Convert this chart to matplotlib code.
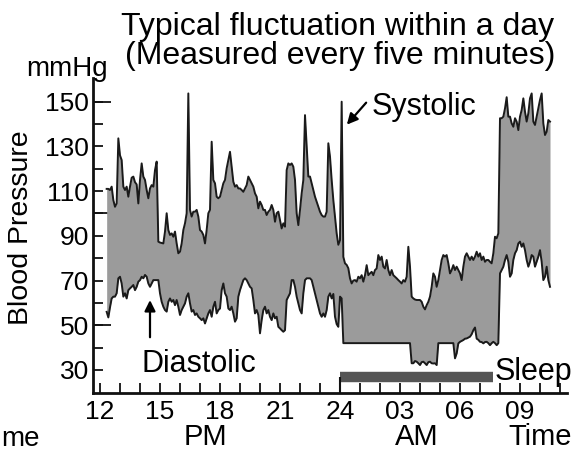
import numpy as np
import matplotlib
matplotlib.use('Agg')
import matplotlib.pyplot as plt

plt.rcParams['font.family'] = ['Liberation Sans', 'DejaVu Sans']

# ---------------- data ----------------
start_hour = 12 + 20 / 60          # first reading 12:20
interval_min = 5                   # measured every five minutes

systolic = [
    111, 111, 110.5, 112, 106, 103, 104.5, 133.6, 126, 123.9,
    112, 110.5, 112, 107.5, 112, 116, 116.5, 114, 113, 104.5,
    115, 122.4, 116.5, 115, 110.5, 106.8, 111.2, 112.7, 112, 119.4,
    123.2, 87.4, 87, 86.8, 86.6, 91.9, 100.1, 92.6, 90.4, 91.1,
    89.6, 91.9, 86.6, 82.2, 82.9, 86.6, 92.6, 95.6, 100.1, 153.7,
    101.6, 98.6, 100.8, 100.8, 101.6, 98.6, 92.6, 91.9, 90.4, 86.6,
    92.6, 100.1, 101.6, 132.1, 115, 113.5, 107.5, 106.8, 107.5, 110.5,
    113.5, 115, 120.2, 123.9, 127.6, 120.9, 114.2, 112, 112.7, 111.2,
    111.2, 110.5, 109.7, 111.2, 112.7, 116.5, 115, 113.5, 112, 109,
    107.5, 102.3, 105.3, 103.8, 101.6, 101.6, 99.3, 100.8, 101.6, 103.8,
    101.6, 96.3, 100.1, 100.8, 97.1, 93.3, 95.6, 94.1, 119.4, 122.4,
    121.7, 122.4, 120.9, 115, 100.1, 94.8, 101.6, 109, 115, 144,
    129.9, 116.5, 116.5, 113.5, 110.5, 107.5, 105.3, 103, 100.8, 99.3,
    98.6, 98.6, 100.8, 131.4, 125.4, 115, 106, 98.6, 91.1, 86,
    # from midnight
    88, 150, 80.6, 77.7, 77, 75.5, 71, 68.7, 70, 70.2,
    69.5, 71.7, 71, 72.4, 69.5, 72.4, 76.9, 72.4, 73.2, 73.9,
    72.4, 74.7, 75.4, 81.4, 79.2, 80.7, 76.2, 75.4, 79.2, 74.7,
    72.4, 74.7, 72.4, 71.7, 71, 70.2, 69.5, 68.7, 70.2, 69.5,
    71.7, 85.1, 76.2, 62.8, 62, 61.5, 61.3, 61.3, 61.3, 60.5,
    58.3, 57.1, 59, 60.5, 62.8, 67.2, 73.2, 71.7, 67.2, 70.2,
    74.7, 79.2, 81.4, 80.7, 81.4, 77.7, 73.2, 74.7, 76.9, 74.7,
    76.2, 74.7, 73.2, 70.2, 76.2, 80.7, 82.2, 80.7, 79.2, 80.7,
    79.2, 80.7, 82.9, 80.7, 82.2, 79.2, 80.7, 78.4, 79.2, 79.2,
    78.4, 77.7, 82.2, 89.6, 88.9, 91.1, 142.6, 142.6, 143.3, 147,
    152, 143.3, 143.3, 140.3, 138.8, 142.6, 141.1, 137.3, 143.3, 146.3,
    151.5, 145.5, 141.1, 144.8, 151.5, 153.7, 141.1, 139.6, 143.3, 147,
    150.8, 153.7, 140.3, 135.1, 136.6, 141.8, 141.1,
]

diastolic = [
    56, 53.5, 58, 62, 62.8, 62.8, 64.3, 71, 71.7, 68.7,
    62.8, 64.3, 62, 65.7, 66.5, 67.2, 68, 65.7, 67.2, 69.5,
    70.2, 71.7, 71, 72.5, 71.7, 68.7, 67.2, 68.7, 70.2, 70.2,
    70.2, 70.2, 64.3, 60.5, 58.3, 56.8, 56.1, 60.5, 62, 60.5,
    61.3, 59, 61.3, 58.3, 54.6, 56.8, 58.3, 59.8, 62.8, 64.3,
    59.8, 56.1, 56.8, 54.6, 55.3, 53.8, 53.1, 52.3, 53.1, 50.8,
    53.1, 55.3, 56.8, 53.8, 58.3, 60.5, 55.3, 56.8, 57.5, 65.7,
    68.7, 64.3, 62.8, 57.5, 56.8, 58.3, 55.3, 51.6, 53.1, 62.8,
    65.7, 68, 70.2, 71, 70.2, 68.7, 67.2, 66.5, 61.3, 55.3,
    56.8, 54.6, 46.4, 52.3, 56.8, 58.3, 55.3, 56.8, 53.8, 52.3,
    55.3, 53.1, 53.8, 49.3, 48.6, 47.8, 47.1, 47.8, 61.3, 62.8,
    64.3, 70.2, 70.2, 67.2, 62.8, 59.8, 56.8, 55.3, 64.3, 70.2,
    71, 71, 71, 70.2, 67.2, 64.3, 61.3, 58.3, 55.3, 53.8,
    55.3, 53.8, 56.8, 62.8, 64.3, 62, 64, 53.8, 50.5, 49.3,
    # from midnight
    62.8, 62,
    42, 42, 42, 42, 42, 42, 42, 42, 42, 42,
    42, 42, 42, 42, 42, 42, 42, 42, 42, 42,
    42, 42, 42, 42, 42, 42, 42, 42, 42, 42,
    42, 42, 42, 42, 42, 42, 42, 42, 42, 42, 42,
    33, 33, 34, 33.7, 33, 32.2, 33.5, 33.7, 33, 32.2,
    33.5, 33.7, 33, 32.9, 33, 32.2,
    42, 42, 42, 42, 42, 42, 42, 42, 42, 42,
    35.2, 37.4, 41.9, 42.6, 43, 43.4, 44, 44.1, 44.5, 44.9,
    46, 47.8, 49, 44, 43.5, 42.6, 42.5, 41.9, 42.5, 42.6,
    42, 41.1, 42, 42.6, 42, 41.1, 42,
    73.2, 74.7, 76.2, 79.2, 81.4, 78.4, 71.7, 73.2, 79.2, 82.2,
    83.6, 86.6, 87.4, 85.1, 86.6, 83.6, 79.2, 76.2, 78.4, 81.4,
    80.7, 76.2, 78.4, 80.7, 83.6, 78.4, 70.2, 71.7, 76.2, 70.2, 67.2,
]

xtick_pos = [12, 15, 18, 21, 24, 27, 30, 33]
xtick_labels = ["12", "15", "18", "21", "24", "03", "06", "09"]
ytick_pos = [30, 50, 70, 90, 110, 130, 150]
ytick_labels = ["30", "50", "70", "90", "110", "130", "150"]
sleep_start, sleep_end, sleep_level = 24.0, 31.65, 27

# ---------------- figure ----------------
fig = plt.figure(figsize=(5.75, 4.51), dpi=100)
ax = fig.add_axes([93 / 575, 58 / 451, (567 - 93) / 575, (393 - 78) / 451])

t = start_hour + np.arange(len(systolic)) * interval_min / 60.0
ax.fill_between(t, diastolic, systolic, color='#9b9b9b', lw=0)
ax.plot(t, systolic, color='#1a1a1a', lw=1.4)
ax.plot(t, diastolic, color='#1a1a1a', lw=1.4)

ax.set_xlim(11.65, 35.35)
ax.set_ylim(19.7, 160.6)

for s in ['top', 'right']:
    ax.spines[s].set_visible(False)
for s in ['left', 'bottom']:
    ax.spines[s].set_linewidth(2)
    ax.spines[s].set_color('#111111')

ax.set_xticks(xtick_pos)
ax.set_xticklabels(xtick_labels)
ax.set_xticks(np.arange(12, 36), minor=True)
ax.set_yticks(ytick_pos)
ax.set_yticklabels(ytick_labels)
ax.set_yticks(np.arange(40, 150, 20), minor=True)
ax.tick_params(axis='both', which='both', direction='in', length=7, width=1.3,
               color='#111111', labelsize=19)
ax.tick_params(axis='x', which='major', pad=5)
ax.tick_params(axis='y', which='major', pad=3)

sec = ax.secondary_yaxis('left')
sec.set_yticks([50, 100, 150])
sec.set_yticklabels([])
sec.tick_params(direction='in', length=13, width=1.3, color='#111111')
sec.spines['left'].set_visible(False)

# sleep bar
ax.hlines(sleep_level, sleep_start, sleep_end, color='#555555', lw=7.5)
ax.vlines(sleep_start, 19.7, sleep_level, color='#111111', lw=1.5)
ax.text(31.75, 25.5, 'Sleep', fontsize=22, ha='left', va='baseline', clip_on=False)

# annotations
ax.annotate('', xy=(24.25, 138.8), xytext=(25.4, 150.5),
            arrowprops=dict(arrowstyle='-|>', color='black', lw=1.6, mutation_scale=16))
ax.text(25.6, 144, 'Systolic', fontsize=22, ha='left', va='baseline')
ax.annotate('', xy=(14.5, 62.5), xytext=(14.5, 43.4),
            arrowprops=dict(arrowstyle='-|>', color='black', lw=1.6, mutation_scale=16))
ax.text(16.95, 29, 'Diastolic', fontsize=22, ha='center', va='baseline')

ax.text(17.25, 0, 'PM', fontsize=21, ha='center', va='center', clip_on=False)
ax.text(27.85, 0, 'AM', fontsize=21, ha='center', va='center', clip_on=False)
ax.text(34.0, 0, 'Time', fontsize=21, ha='center', va='center', clip_on=False)

fig.text(338 / 575, 1 - 35 / 451, 'Typical fluctuation within a day',
         fontsize=23, ha='center', va='baseline')
fig.text(340 / 575, 1 - 64 / 451, '(Measured every five minutes)',
         fontsize=23, ha='center', va='baseline')
fig.text(67 / 575, 1 - 76 / 451, 'mmHg', fontsize=20, ha='center', va='baseline')
fig.text(21 / 575, 1 - 228 / 451, 'Blood Pressure', fontsize=20.5,
         rotation=90, ha='center', va='center')
fig.text(0.002, 5 / 451, 'me', fontsize=20, ha='left', va='baseline')

fig.savefig('out.png', dpi=100)
